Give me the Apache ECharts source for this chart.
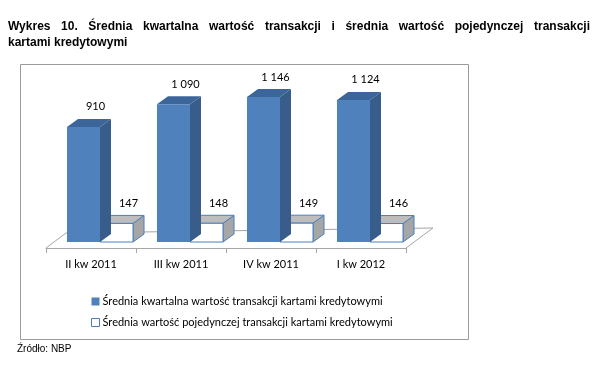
<!DOCTYPE html>
<html><head><meta charset="utf-8">
<script src="https://cdn.jsdelivr.net/npm/echarts@6/dist/echarts.min.js"></script>
<style>html,body{margin:0;padding:0;background:#fff}#c{width:612px;height:374px}</style>
</head><body><div id="c"></div>
<script>
const categories = ['II kw 2011', 'III kw 2011', 'IV kw 2011', 'I kw 2012'];
const quarterlyAvg = [910, 1090, 1146, 1124];
const singleAvg = [147, 148, 149, 146];
const seriesNames = [
  'Średnia kwartalna wartość transakcji kartami kredytowymi',
  'Średnia wartość pojedynczej transakcji kartami kredytowymi'
];
const titleLine1 = 'Wykres 10. Średnia kwartalna wartość transakcji i średnia wartość pojedynczej transakcji';
const titleLine2 = 'kartami kredytowymi';
const sourceText = 'Źródło: NBP';

function fmt(v) {
  return v >= 1000 ? Math.floor(v / 1000) + ' ' + String(v % 1000).padStart(3, '0') : String(v);
}

const DX = 11, DY = -8, LIFT = 6;
const LABEL_FONT = 'Lato, "Open Sans", sans-serif';

function makeRender(slot, st) {
  return function (params, api) {
    const i = api.value(0), v = api.value(1);
    const base = api.coord([i, 0]);
    const top = api.coord([i, v]);
    const band = api.size([1, 0])[0];
    const w = band * 0.367;
    const cx = base[0] + band * 0.1;
    const x0 = slot === 0 ? cx - w : cx;
    const x1 = x0 + w;
    const yb = base[1] - LIFT, yt = top[1] - LIFT;
    const stroke = st.stroke || null;
    const lw = st.stroke ? 1 : 0;
    return {
      type: 'group',
      children: [
        { type: 'polygon', shape: { points: [[x1, yt], [x1 + DX, yt + DY], [x1 + DX, yb + DY], [x1, yb]] },
          style: { fill: st.side, stroke: stroke, lineWidth: lw } },
        { type: 'polygon', shape: { points: [[x0, yt], [x0 + DX, yt + DY], [x1 + DX, yt + DY], [x1, yt]] },
          style: { fill: st.top, stroke: stroke, lineWidth: lw } },
        { type: 'rect', shape: { x: x0, y: yt, width: w, height: yb - yt },
          style: { fill: st.front, stroke: stroke, lineWidth: lw } },
        { type: 'text', style: { text: fmt(v), x: (x0 + x1) / 2 + 12, y: yt - 20, align: 'center', verticalAlign: 'middle',
          fontSize: 11, fontFamily: LABEL_FONT, fill: '#000' } }
      ]
    };
  };
}

function floorRender(params, api) {
  const cs = params.coordSys;
  const yb = cs.y + cs.height;
  return {
    type: 'polyline',
    shape: { points: [[cs.x, yb], [cs.x + 20, yb - 15], [cs.x + cs.width + 27, yb - 20], [cs.x + cs.width, yb]] },
    style: { stroke: '#a6a6a6', lineWidth: 1, fill: null }
  };
}

// Title words justified across the width
const ctx = document.createElement('canvas').getContext('2d');
const TITLE_FONT_FAMILY = '"Liberation Sans Narrow", "Liberation Sans", Arial, sans-serif';
ctx.font = 'bold 12px ' + TITLE_FONT_FAMILY;
const words = titleLine1.split(' ');
const widths = words.map(w => ctx.measureText(w).width);
const totalW = widths.reduce((a, b) => a + b, 0);
const L = 8, R = 590;
const gap = (R - L - totalW) / (words.length - 1);
const graphics = [];
let xx = L;
words.forEach((w, k) => {
  graphics.push({ type: 'text', left: xx, top: 21, style: { text: w, fontSize: 12, fontWeight: 'bold', fontFamily: TITLE_FONT_FAMILY, fill: '#000' } });
  xx += widths[k] + gap;
});
graphics.push({ type: 'text', left: L, top: 37, style: { text: titleLine2, fontSize: 12, fontWeight: 'bold', fontFamily: TITLE_FONT_FAMILY, fill: '#000' } });
graphics.push({ type: 'rect', left: 18, top: 62, shape: { width: 448, height: 275 }, style: { fill: null, stroke: '#9a9a9a', lineWidth: 1 }, z: -1 });
graphics.push({ type: 'text', left: 17, top: 344, style: { text: sourceText, fontSize: 10, fontFamily: '"Liberation Sans", Arial, sans-serif', fill: '#000' } });

const chart = echarts.init(document.getElementById('c'), null, { renderer: 'canvas' });
chart.setOption({
  animation: false,
  backgroundColor: '#fff',
  graphic: graphics,
  grid: { left: 46, right: 206, top: 71, bottom: 126 },
  xAxis: {
    type: 'category', data: categories, boundaryGap: true,
    axisLine: { lineStyle: { color: '#a6a6a6', width: 1 } },
    axisTick: { show: true, length: 5, lineStyle: { color: '#a6a6a6' } },
    axisLabel: { margin: 11, fontSize: 11, fontFamily: LABEL_FONT, color: '#000' }
  },
  yAxis: { type: 'value', min: 0, max: 1400, show: false, splitLine: { show: false } },
  legend: {
    orient: 'vertical', left: 86, top: 291, itemWidth: 8, itemHeight: 8, itemGap: 10,
    textStyle: { fontSize: 11, fontFamily: LABEL_FONT, color: '#000', padding: [0, 0, 0, -2] },
    data: [
      { name: seriesNames[0], icon: 'rect', itemStyle: { color: '#4f81bd', borderWidth: 0 } },
      { name: seriesNames[1], icon: 'rect', itemStyle: { color: '#fff', borderColor: '#4a7ebb', borderWidth: 1 } }
    ]
  },
  series: [
    { type: 'custom', name: 'floor', z: 1, silent: true, renderItem: floorRender, data: [[0, 0]], encode: { x: 0, y: 1 } },
    { type: 'custom', name: seriesNames[0], z: 3, itemStyle: { color: '#4f81bd' },
      renderItem: makeRender(0, { front: '#4f81bd', side: '#385d8a', top: '#3c659a' }),
      data: quarterlyAvg.map((v, i) => [i, v]), encode: { x: 0, y: 1 } },
    { type: 'custom', name: seriesNames[1], z: 2, itemStyle: { color: '#fff', borderColor: '#4a7ebb' },
      renderItem: makeRender(1, { front: '#ffffff', side: '#a6a6a6', top: '#bdbdbd', stroke: '#4a7ebb' }),
      data: singleAvg.map((v, i) => [i, v]), encode: { x: 0, y: 1 } }
  ]
});
</script></body></html>
